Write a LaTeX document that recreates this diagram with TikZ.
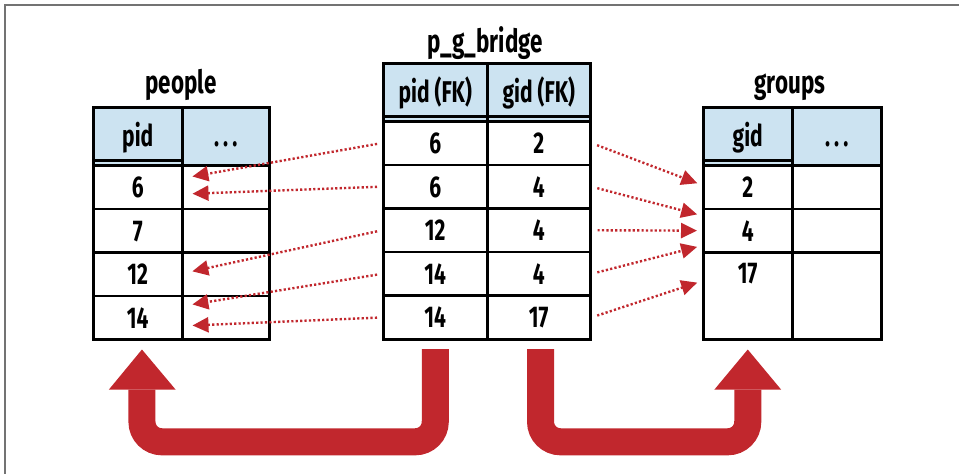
\documentclass[tikz,border=0pt]{standalone}
\usepackage{fontspec}
\setmainfont{Fira Sans}[FakeStretch=0.7]
\usepackage{tikz}
\usetikzlibrary{arrows.meta}

\definecolor{headblue}{HTML}{CCE3F1}
\definecolor{linkred}{HTML}{C1272D}

\newcommand{\moredots}{.\hspace{4pt}.\hspace{4pt}.}

\tikzset{
  cell/.style={draw, line width=2.5pt, anchor=north west, inner sep=0pt,
    minimum height=43.6pt, text height=21pt, text depth=0pt,
    font=\bfseries\fontsize{30}{34}\selectfont},
  headcell/.style={cell, fill=headblue, minimum height=58pt},
  tabletitle/.style={anchor=base, inner sep=0pt,
    font=\bfseries\fontsize{32}{36}\selectfont},
  fklink/.style={linkred, line width=2.4pt, dash pattern=on 2.2pt off 2.2pt,
    -{Triangle[length=16pt,width=15pt]}},
  bigarrow/.style={linkred, line width=27pt, rounded corners=20pt},
}

\begin{document}
\begin{tikzpicture}[x=1pt,y=-1pt]
\useasboundingbox (0,0) rectangle (959,474);

% frame
\draw[black!55, line width=2pt] (5,474) -- (5,5) -- (959,5);

% people
\node[tabletitle] (tpeople) at (181,93) {people};
\node[headcell, minimum width=89pt] (ppid) at (92,106) {pid};
\node[headcell, minimum width=87pt] (pmore) at (181,106) {\moredots};
\draw[line width=2.5pt] ([yshift=6pt]ppid.south west) -- ([yshift=6pt]ppid.south east);
\node[cell, minimum width=89pt] (p6) at (92,164) {6};
\node[cell, minimum width=87pt] (pe6) at (181,164) {};
\node[cell, minimum width=89pt] (p7) at (92,207.6) {7};
\node[cell, minimum width=87pt] (pe7) at (181,207.6) {};
\node[cell, minimum width=89pt] (p12) at (92,251.2) {12};
\node[cell, minimum width=87pt] (pe12) at (181,251.2) {};
\node[cell, minimum width=89pt] (p14) at (92,294.8) {14};
\node[cell, minimum width=87pt] (pe14) at (181,294.8) {};

% p_g_bridge
\node[tabletitle] (tbridge) at (485,52) {p\_g\_bridge};
\node[headcell, minimum width=104pt] (bhp) at (382,62) {pid (FK)};
\node[headcell, minimum width=103pt] (bhg) at (486,62) {gid (FK)};
\draw[line width=2.5pt] ([yshift=6pt]bhp.south west) -- ([yshift=6pt]bhg.south east);
\node[cell, minimum width=104pt] (b1p) at (382,120) {6};
\node[cell, minimum width=103pt] (b1g) at (486,120) {2};
\node[cell, minimum width=104pt] (b2p) at (382,163.6) {6};
\node[cell, minimum width=103pt] (b2g) at (486,163.6) {4};
\node[cell, minimum width=104pt] (b3p) at (382,207.2) {12};
\node[cell, minimum width=103pt] (b3g) at (486,207.2) {4};
\node[cell, minimum width=104pt] (b4p) at (382,250.8) {14};
\node[cell, minimum width=103pt] (b4g) at (486,250.8) {4};
\node[cell, minimum width=104pt] (b5p) at (382,294.4) {14};
\node[cell, minimum width=103pt] (b5g) at (486,294.4) {17};

% groups
\node[tabletitle] (tgroups) at (790,93) {groups};
\node[headcell, minimum width=89pt] (ggid) at (702,106) {gid};
\node[headcell, minimum width=89pt] (gmore) at (791,106) {\moredots};
\draw[line width=2.5pt] ([yshift=6pt]ggid.south west) -- ([yshift=6pt]ggid.south east);
\node[cell, minimum width=89pt] (g2) at (702,164) {2};
\node[cell, minimum width=89pt] (ge2) at (791,164) {};
\node[cell, minimum width=89pt] (g4) at (702,207.6) {4};
\node[cell, minimum width=89pt] (ge4) at (791,207.6) {};
\node[cell, minimum width=89pt, minimum height=87.2pt,
  label={[anchor=center, yshift=-22pt, inner sep=0pt, text height=21pt,
  font=\bfseries\fontsize{30}{34}\selectfont]north:17}] (g17) at (702,251.2) {};
\node[cell, minimum width=89pt, minimum height=87.2pt] (ge17) at (791,251.2) {};

% foreign keys, bridge -> people
\draw[fklink, shorten <=5pt, shorten >=9pt] (b1p.west) -- ([yshift=9pt]p6.east);
\draw[fklink, shorten <=5pt, shorten >=9pt] (b2p.west) -- ([yshift=-7pt]p6.east);
\draw[fklink, shorten <=5pt, shorten >=9pt] (b3p.west) -- ([yshift=1pt]p12.east);
\draw[fklink, shorten <=5pt, shorten >=9pt] (b4p.west) -- ([yshift=12pt]p14.east);
\draw[fklink, shorten <=5pt, shorten >=9pt] (b5p.west) -- ([yshift=-8pt]p14.east);

% foreign keys, bridge -> groups
\draw[fklink, shorten <=6pt, shorten >=5pt] (b1g.east) -- ([yshift=2pt]g2.west);
\draw[fklink, shorten <=6pt, shorten >=5pt] (b2g.east) -- ([yshift=15pt]g4.west);
\draw[fklink, shorten <=6pt, shorten >=5pt] (b3g.east) -- (g4.west);
\draw[fklink, shorten <=6pt, shorten >=5pt] (b4g.east) -- ([yshift=-15pt]g4.west);
\draw[fklink, shorten <=6pt, shorten >=5pt] (b5g.east) -- ([yshift=15pt]g17.west);

% big arrows under the tables
\draw[bigarrow] ([yshift=-8.6pt]b5p.south) -- ++(0,92.7) -| ([xshift=4.2pt,yshift=-48.6pt]p14.south);
\fill[linkred] ([xshift=-28.8pt,yshift=-48.6pt]p14.south) -- ([xshift=4.2pt,yshift=-8.6pt]p14.south)
  -- ([xshift=37.8pt,yshift=-48.6pt]p14.south) -- cycle;
\draw[bigarrow] ([xshift=1.8pt,yshift=-8.6pt]b5g.south) -- ++(0,92.7) -| ([yshift=-48.6pt]g17.south);
\fill[linkred] ([xshift=-33.3pt,yshift=-48.6pt]g17.south) -- ([yshift=-8.6pt]g17.south)
  -- ([xshift=33.3pt,yshift=-48.6pt]g17.south) -- cycle;

\end{tikzpicture}
\end{document}
